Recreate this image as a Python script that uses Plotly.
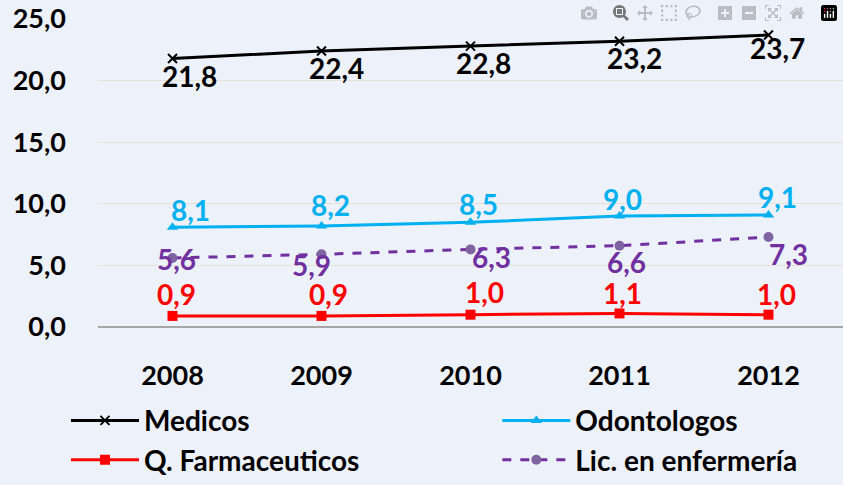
import plotly.graph_objects as go

years = ["2008", "2009", "2010", "2011", "2012"]
medicos = [21.8, 22.4, 22.8, 23.2, 23.7]
odontologos = [8.1, 8.2, 8.5, 9.0, 9.1]
farmaceuticos = [0.9, 0.9, 1.0, 1.1, 1.0]
enfermeria = [5.6, 5.9, 6.3, 6.6, 7.3]

FONT = "Lato"
BG = "#EDF1F9"
LBL = 28

# pixel offsets (dx right, dy down) of each value label from its marker
medicos_off = [(17, 18), (15, 17), (13, 17), (15, 17), (9, 13)]
odonto_off = [(18, -17), (9, -21), (8, -18), (3, -17), (9, -18)]
farma_off = [(4, -22), (7, -22), (14, -23), (3, -20), (8, -21)]
enf_off = [(4, 1), (-10, 11), (21, 8), (7, 16), (20, 17)]

# two legend columns: left one and right one
series = [
    ("Medicos", medicos, "black", "black", dict(symbol="x-thin", size=9, line=dict(color="black", width=2)), "solid", medicos_off, "legend"),
    ("Q. Farmaceuticos", farmaceuticos, "#FF0000", "#FF0000", dict(symbol="square", size=10), "solid", farma_off, "legend"),
    ("Odontologos", odontologos, "#00B0F0", "#00B0F0", dict(symbol="triangle-up", size=10), "solid", odonto_off, "legend2"),
    ("Lic. en enfermería", enfermeria, "#7030A0", "#8064A2", dict(symbol="circle", size=10), "dash", enf_off, "legend2"),
]

fig = go.Figure()

for name, vals, line_col, mark_col, mk, dash, offs, leg in series:
    fig.add_trace(go.Scatter(
        x=years, y=vals, name=name, mode="lines+markers",
        line=dict(color=line_col, width=3, dash=dash),
        marker=dict(color=mark_col, **mk),
        cliponaxis=False, legend=leg,
    ))
    # value labels, placed on the category index of each year
    for i, v in enumerate(vals):
        dx, dy = offs[i]
        fig.add_annotation(
            x=i, y=v, text=f"{v:.1f}".replace(".", ","), showarrow=False,
            xanchor="center", yanchor="middle", xshift=dx, yshift=-dy,
            font=dict(color=line_col, size=LBL, family=FONT, weight="bold"),
        )

leg_style = dict(
    orientation="v", y=-0.223, xanchor="left", yanchor="top",
    itemwidth=68, bgcolor="rgba(0,0,0,0)",
    font=dict(size=28, family=FONT, weight="bold", color="black"),
)

fig.update_layout(
    width=843, height=485,
    margin=dict(l=98, r=0, t=19, b=147),
    paper_bgcolor=BG, plot_bgcolor=BG,
    separators=",.",
    font=dict(family=FONT, size=27, color="black", weight="bold"),
    showlegend=True,
    legend=dict(x=-0.043, **leg_style),
    legend2=dict(x=0.536, **leg_style),
)
fig.update_xaxes(
    type="category", range=[-0.5, 4.5], automargin=False,
    showgrid=False, showline=False, ticks="", ticklabelstandoff=30,
    tickfont=dict(size=27, family=FONT, weight="bold"),
)
fig.update_yaxes(
    range=[0, 25], dtick=5, tickformat=".1f", automargin=False,
    showgrid=True, gridcolor="#E6E3D6", gridwidth=1,
    zeroline=True, zerolinecolor="#A6A6A6", zerolinewidth=2,
    ticks="", ticklabelstandoff=31,
    tickfont=dict(size=27, family=FONT, weight="bold"),
)

# drop the browser's default 8px body margin so the figure sits at the window corner
fig.write_html("out.html", post_script="document.body.style.margin='0';")
